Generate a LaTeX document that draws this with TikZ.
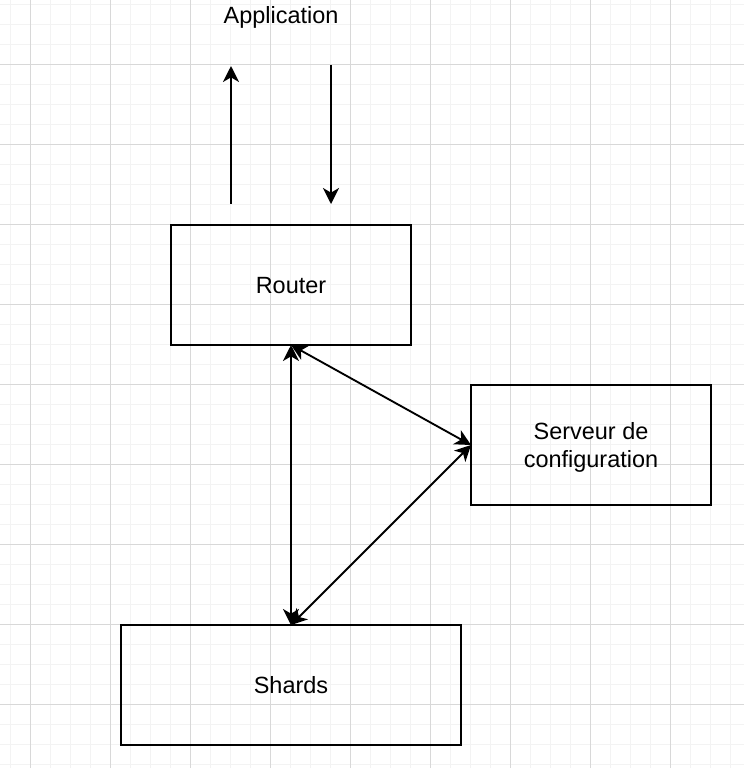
\documentclass[tikz,border=0pt]{standalone}
\usepackage{fontspec}
\setmainfont{Liberation Sans}
\usepackage{tikz}
\usetikzlibrary{arrows.meta,positioning}
\definecolor{gridmajor}{RGB}{216,216,216}
\definecolor{gridminor}{RGB}{243,243,243}

\begin{document}
\begin{tikzpicture}[x=0.75pt, y=-0.75pt,
    every node/.style={font=\fontsize{17.6}{21.6}\selectfont},
    box/.style={draw, line width=1.5pt, outer sep=0pt, minimum width=180pt, minimum height=90pt, align=center, text depth=0pt, yshift=0pt},
    link/.style={line width=1.5pt, arrows={-Stealth[length=12pt,width=12pt,inset=3.5pt]}},
    dlink/.style={line width=1.4pt, arrows={Stealth[length=12pt,width=12pt,inset=3.5pt]-Stealth[length=12pt,width=12pt,inset=3.5pt]}}]
  \useasboundingbox (0,0) rectangle (744,768);
  \fill[white] (0,0) rectangle (744,768);

  % grid
  \foreach \x in {10,30,...,730} \draw[gridminor, line width=0.75pt] (\x,0) -- (\x,768);
  \foreach \y in {4,24,...,764} \draw[gridminor, line width=0.75pt] (0,\y) -- (744,\y);
  \foreach \x in {30,110,...,670} \draw[gridmajor, line width=0.75pt] (\x,0) -- (\x,768);
  \foreach \y in {64,144,...,704} \draw[gridmajor, line width=0.75pt] (0,\y) -- (744,\y);

  \node (app) at (281,17) {Application};
  \coordinate (up0) at (231,204);
  \coordinate (up1) at (231,66);
  \coordinate (dn0) at (331,65);
  \coordinate (dn1) at (331,204);

  \node[box] (router) at (291,285) {Router};
  \node[box] (serveur) at (591,445) {Serveur de\\configuration};
  \node[box, minimum width=255pt] (shards) at (291,685) {Shards};

  \path[link] (up0) edge (up1);
  \path[link] (dn0) edge (dn1);
  \path[dlink] (router.south) edge (shards.north);
  \path[dlink] (router.south) edge (serveur.west);
  \path[dlink] (serveur.west) edge (shards.north);

\end{tikzpicture}
\end{document}
